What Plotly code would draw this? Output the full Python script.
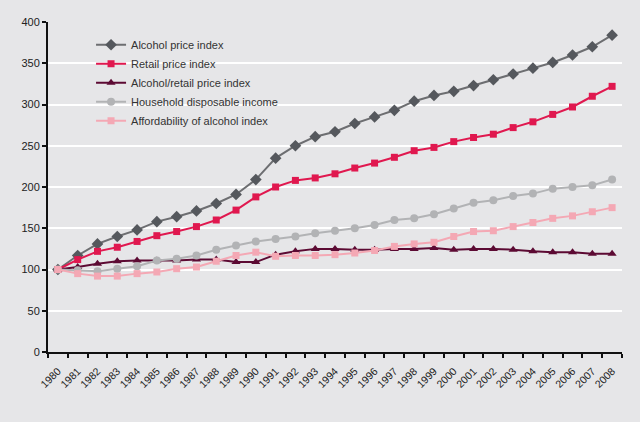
import plotly.graph_objects as go

years = [str(y) for y in range(1980, 2009)]

alcohol_price = [100, 117, 131, 140, 148, 158, 164, 171, 180, 191, 209, 235, 250, 261, 267,
                 277, 285, 293, 304, 311, 316, 323, 330, 337, 344, 351, 360, 370, 384]
retail_price = [100, 112, 122, 127, 134, 141, 146, 152, 160, 172, 188, 200, 208, 211, 216,
                223, 229, 236, 244, 248, 255, 260, 264, 272, 279, 288, 297, 310, 322]
alc_retail = [100, 103, 107, 110, 111, 111, 111, 112, 112, 109, 109, 118, 122, 125, 125,
              124, 124, 125, 125, 126, 124, 125, 125, 124, 122, 121, 121, 119, 119]
household_income = [100, 99, 98, 101, 104, 111, 113, 117, 124, 129, 134, 137, 140, 144, 147,
                    150, 154, 160, 162, 167, 174, 181, 184, 189, 192, 198, 200, 202, 209]
affordability = [100, 95, 92, 92, 95, 97, 101, 103, 110, 117, 121, 116, 117, 117, 118,
                 120, 123, 128, 131, 133, 140, 146, 147, 152, 157, 162, 165, 170, 175]

series = [
    ("Alcohol price index", alcohol_price, "#6d6e71", "#55585d", "diamond", 9),
    ("Retail price index", retail_price, "#e0184f", "#e0184f", "square", 7),
    ("Alcohol/retail price index", alc_retail, "#5c0a33", "#5c0a33", "triangle-up", 8),
    ("Household disposable income", household_income, "#b2b3b5", "#b2b3b5", "circle", 8),
    ("Affordability of alcohol index", affordability, "#f4a8b4", "#f4a8b4", "square", 7),
]

fig = go.Figure()
for name, vals, lc, mc, sym, sz in series:
    fig.add_trace(go.Scatter(
        x=years, y=vals, name=name, mode="lines+markers",
        line=dict(color=lc, width=2),
        marker=dict(color=mc, symbol=sym, size=sz),
    ))

fig.update_layout(
    width=640, height=422,
    margin=dict(l=48, r=18, t=22, b=70),
    paper_bgcolor="#e6e6e8", plot_bgcolor="#e6e6e8",
    font=dict(family="Liberation Sans, Arial, sans-serif", size=11, color="#222222"),
    showlegend=True,
    legend=dict(x=0.075, y=0.975, xanchor="left", yanchor="top",
                bgcolor="rgba(0,0,0,0)", font=dict(size=11, color="#333333"),
                tracegroupgap=0),
    xaxis=dict(type="category", tickson="boundaries", ticks="outside", ticklen=4,
               tickwidth=2, tickcolor="#111111", tickangle=-45,
               showline=True, linecolor="#111111", linewidth=2,
               showgrid=False, tickfont=dict(size=10.5, color="#222222"),
               ticklabelstandoff=7, range=[-0.5, 28.5]),
    yaxis=dict(range=[0, 400], dtick=50, ticks="outside", ticklen=4, tickwidth=2,
               tickcolor="#111111", showline=True, linecolor="#111111", linewidth=2,
               showgrid=True, gridcolor="#ffffff", gridwidth=2, zeroline=False,
               tickfont=dict(size=11, color="#222222")),
)

fig.write_html("out.html", config={"displayModeBar": False},
               post_script="document.body.style.margin='0';document.body.style.background='#e6e6e8';")
